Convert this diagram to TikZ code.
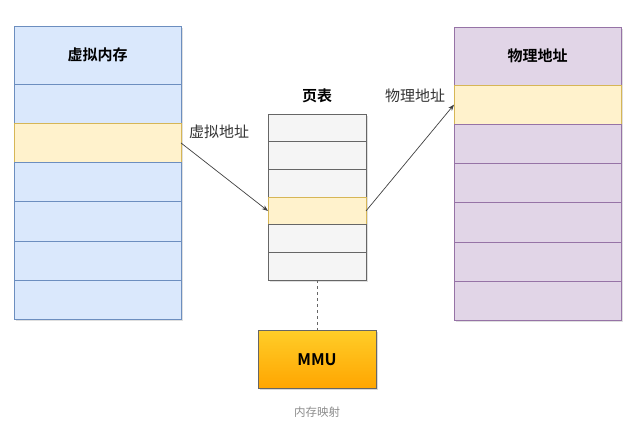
\documentclass[tikz,border=0pt]{standalone}
\usepackage{fontspec}
\setmainfont{Noto Sans CJK SC}[BoldFont={Noto Sans CJK SC Bold}]
\usetikzlibrary{arrows.meta,calc,positioning,shadows}
\definecolor{azul}{HTML}{DAE8FC}
\definecolor{azulborde}{HTML}{6C8EBF}
\definecolor{crema}{HTML}{FFF2CC}
\definecolor{cremaborde}{HTML}{D6B656}
\definecolor{lila}{HTML}{E1D5E7}
\definecolor{lilaborde}{HTML}{9673A6}
\definecolor{humo}{HTML}{F5F5F5}
\definecolor{humoborde}{HTML}{666666}
\definecolor{ambar}{HTML}{FFCD28}
\definecolor{naranja}{HTML}{FFA500}

\begin{document}
\begin{tikzpicture}[x=1pt,y=-1pt,>=Stealth,line width=0.9pt,
    celda/.style={draw,anchor=north west,inner sep=0pt,outer sep=0pt,
      drop shadow={opacity=0.25,shadow xshift=1.5pt,shadow yshift=-1.5pt}},
    virt/.style={celda,fill=azul,draw=azulborde,minimum width=167pt},
    fisi/.style={celda,fill=lila,draw=lilaborde,minimum width=167pt},
    tabla/.style={celda,fill=humo,draw=humoborde,minimum width=98pt,minimum height=27.7pt},
    marca/.style={fill=crema,draw=cremaborde},
    titulo/.style={font=\bfseries\fontsize{15}{17}\selectfont},
    etiqueta/.style={font=\fontsize{15}{17}\selectfont,text=black!80}]
        \useasboundingbox (0,0) rectangle (628,423);
        % memoria virtual
        \node[virt,minimum height=58pt] (vt) at (14,26) {};
        \node[titulo] at (vt.center) {虚拟内存};
        \foreach \k in {1,...,6}{
          \ifnum\k=2
            \node[virt,marca,minimum height=39.3pt] (v\k) at (14,{84+39.3*(\k-1)}) {};
          \else
            \node[virt,minimum height=39.3pt] (v\k) at (14,{84+39.3*(\k-1)}) {};
          \fi}
        % memoria fisica
        \node[fisi,minimum height=58pt] (ft) at (454,27) {};
        \node[titulo] at (ft.center) {物理地址};
        \foreach \k in {1,...,6}{
          \ifnum\k=1
            \node[fisi,marca,minimum height=39.3pt] (f\k) at (454,{85+39.3*(\k-1)}) {};
          \else
            \node[fisi,minimum height=39.3pt] (f\k) at (454,{85+39.3*(\k-1)}) {};
          \fi}
        % tabla de paginas
        \foreach \k in {1,...,6}{
          \ifnum\k=4
            \node[tabla,marca] (t\k) at (268,{114+27.7*(\k-1)}) {};
          \else
            \node[tabla] (t\k) at (268,{114+27.7*(\k-1)}) {};
          \fi}
        \node[titulo,above=7pt of t1] (tt) {页表};
        % MMU
        \node[draw=humoborde,top color=ambar,bottom color=naranja,minimum width=118pt,minimum height=58pt,
          inner sep=0pt,below=50pt of t6,drop shadow={opacity=0.3,shadow xshift=1.5pt,shadow yshift=-1.5pt},
          font=\bfseries\fontsize{16}{18}\selectfont] (mmu) {MMU};
        \node[below=14pt of mmu,font=\fontsize{11.5}{13}\selectfont,text=black!45] (pie) {内存映射};
        \draw[dashed,line width=0.6pt,humoborde] (t6.south) -- (mmu.north);
        % flechas
        \draw[->,line width=0.7pt,black!75] (v2.east) -- (t4.west);
        \draw[->,line width=0.7pt,black!75] (t4.east) -- (f1.west);
        \node[etiqueta] (lv) at (219,132) {虚拟地址};
        \node[etiqueta] (lf) at (415,96) {物理地址};
      \end{tikzpicture}
\end{document}
